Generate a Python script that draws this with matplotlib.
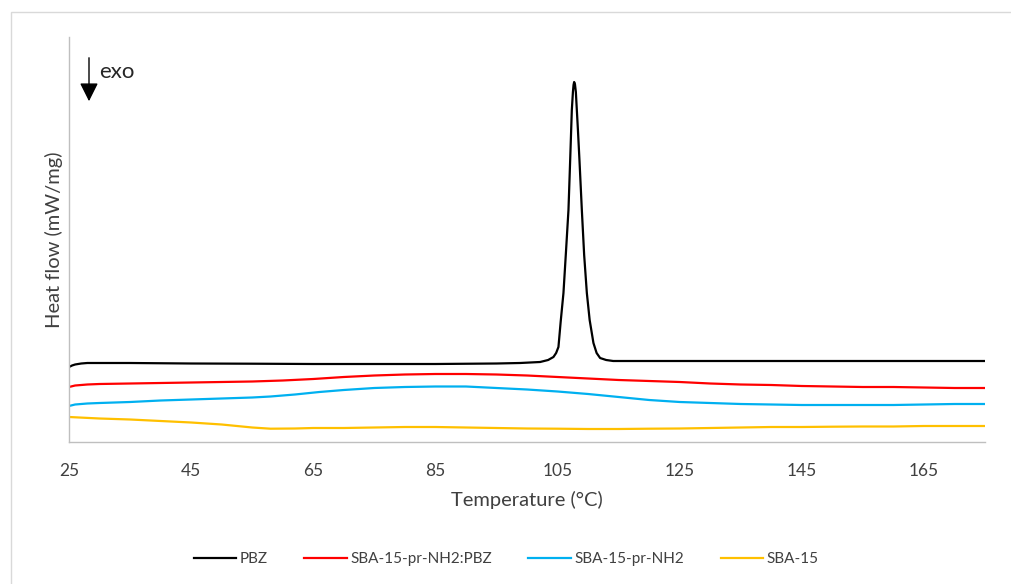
import numpy as np
import matplotlib.pyplot as plt
from matplotlib.patches import Rectangle

plt.rcParams['font.family'] = ['Lato', 'DejaVu Sans']

# temperatures (deg C) and heat flow (arbitrary units, offset curves)
t_pbz = [25, 25.5, 26, 27, 28, 30, 35, 45, 55, 65, 75, 85, 95, 98.87, 102.15,
         103.46, 104.33, 104.77, 105.15, 105.51, 105.97, 106.38, 106.79, 107.07,
         107.34, 107.52, 107.62, 107.72, 107.85, 108.0, 108.16, 108.34, 108.59,
         108.98, 109.36, 109.8, 110.26, 110.88, 111.4, 111.97, 112.96, 114.11,
         125, 150, 175]
hf_pbz = [75, 76.5, 77.5, 78.5, 79, 79, 79, 78.5, 78.3, 78, 78, 78, 78.5, 79, 80,
          82, 85, 89, 95, 120, 149, 190, 232, 282,
          332, 350, 357, 360, 358, 350, 332, 312, 282,
          232, 187, 149, 122, 99, 89, 84, 82, 81,
          81, 81, 81]

t_comp = [25, 26, 28, 30, 35, 40, 45, 50, 55, 60, 65, 70, 75, 80, 85, 90, 95,
          100, 105, 110, 115, 120, 125, 130, 135, 140, 145, 150, 155, 160, 165,
          170, 175]
hf_comp = [55, 56.5, 57.5, 58, 58.5, 59, 59.5, 60, 60.5, 61.5, 63, 65, 66.5,
           67.5, 68, 68, 67.5, 66.5, 65, 63.5, 62, 61, 60, 58.5, 57.5, 57, 56,
           55.5, 55, 55, 54.5, 54, 54]

t_nh2 = [25, 26, 28, 30, 35, 40, 45, 50, 55, 58, 62, 66, 70, 75, 80, 85, 90,
         95, 100, 105, 110, 115, 120, 125, 130, 135, 140, 145, 150, 155, 160,
         165, 170, 175]
hf_nh2 = [36, 37.5, 38.5, 39, 40, 41.5, 42.5, 43.5, 44.5, 45.5, 47.5, 50, 52,
          54, 55, 55.5, 55.5, 54, 52.5, 50.5, 48, 45, 42, 40, 39, 38, 37.5, 37,
          37, 37, 37, 37.5, 38, 38]

t_sba = [25, 30, 35, 40, 45, 50, 55, 58, 62, 65, 70, 75, 80, 85, 90, 95, 100,
         105, 110, 115, 120, 125, 130, 135, 140, 145, 150, 155, 160, 165, 170,
         175]
hf_sba = [25, 23.5, 22.5, 21, 19.5, 17.5, 14.5, 13.3, 13.5, 14, 14, 14.5, 15,
          15, 14.5, 14, 13.5, 13.3, 13, 13, 13.3, 13.5, 14, 14.5, 15, 15, 15.3,
          15.5, 15.5, 16, 16, 16]

series = [("PBZ", t_pbz, hf_pbz, "#000000"),
          ("SBA-15-pr-NH2:PBZ", t_comp, hf_comp, "#ff0000"),
          ("SBA-15-pr-NH2", t_nh2, hf_nh2, "#00b0f0"),
          ("SBA-15", t_sba, hf_sba, "#ffc000")]

xticks = [25, 45, 65, 85, 105, 125, 145, 165]

fig = plt.figure(figsize=(10.12, 5.84), dpi=100)
fig.patches.append(Rectangle((11/1012, -0.1), 1.2, (584-12)/584 + 0.1,
                             transform=fig.transFigure, fill=False,
                             edgecolor='#d9d9d9', lw=1))
ax = fig.add_axes([69/1012, (584-442)/584, (985-69)/1012, (442-37)/584])

for name, t, hf, c in series:
    ax.plot(t, hf, color=c, lw=1.6, label=name, solid_joinstyle='round')

ax.set_xlim(25, 175)
ax.set_ylim(0, 405)
ax.set_xticks(xticks)
ax.set_yticks([])
ax.tick_params(axis='x', length=0, pad=15, labelsize=12.5, colors='#404040')
for s in ['top', 'right']:
    ax.spines[s].set_visible(False)
for s in ['left', 'bottom']:
    ax.spines[s].set_color('#bfbfbf')
    ax.spines[s].set_linewidth(1)

ax.set_xlabel("Temperature (°C)", fontsize=14.5, color='#404040', labelpad=9)
ax.set_ylabel("Heat flow (mW/mg)", fontsize=14.5, color='#404040', labelpad=4)

# exo arrow
fig.text(99/1012, 1 - 72/584, "exo", fontsize=16, color='#262626', va='center')
ax.annotate("", xy=(89/1012, 1 - 104/584), xytext=(89/1012, 1 - 55/584),
            xycoords='figure fraction', textcoords='figure fraction',
            arrowprops=dict(arrowstyle='-|>,head_width=0.4,head_length=0.8',
                            mutation_scale=14, color='black', lw=1))

fig.legend(loc='center', bbox_to_anchor=(506/1012, 1 - 559/584), ncol=4,
           frameon=False, fontsize=11, handlelength=2.8, columnspacing=2.4,
           handletextpad=0.2, labelcolor='#404040')

fig.savefig("out.png", dpi=100)
